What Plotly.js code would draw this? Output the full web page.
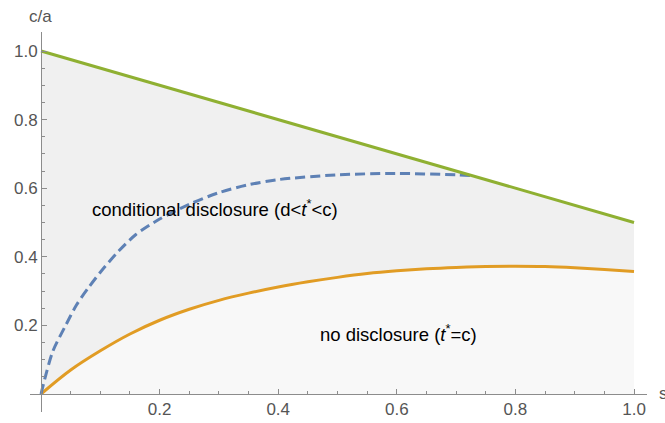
<!DOCTYPE html>
<html>
<head>
<meta charset="utf-8">
<script src="https://cdn.plot.ly/plotly-3.0.1.min.js"></script>
<style>html,body{margin:0;padding:0;background:#fff;}#chart{width:665px;height:423px;}</style>
</head>
<body>
<div id="chart"></div>
<script>
// Upper boundary (green line)
const greenS = [0, 1];
const greenY = [1.0, 0.5];

// Lower boundary (orange curve)
const orangeS = [0, 0.05, 0.1, 0.15, 0.2, 0.25, 0.3, 0.35, 0.4, 0.45, 0.5, 0.55, 0.6, 0.65, 0.7, 0.75, 0.8, 0.85, 0.9, 0.95, 1.0];
const orangeY = [0, 0.07, 0.126, 0.175, 0.215, 0.247, 0.273, 0.294, 0.312, 0.327, 0.34, 0.351, 0.359, 0.365, 0.369, 0.3715, 0.3725, 0.3715, 0.368, 0.363, 0.357];

// Dashed curve (blue)
const blueS = [0, 0.005, 0.02, 0.04, 0.06, 0.08, 0.1, 0.13, 0.16, 0.2, 0.25, 0.3, 0.35, 0.4, 0.5, 0.6, 0.7, 0.725];
const blueY = [0, 0.035, 0.125, 0.195, 0.26, 0.31, 0.355, 0.415, 0.465, 0.51, 0.553, 0.587, 0.61, 0.625, 0.639, 0.643, 0.639, 0.637];

const xTicks = [0.2, 0.4, 0.6, 0.8, 1.0];
const xTickText = ["0.2", "0.4", "0.6", "0.8", "1.0"];
const yTicks = [0.2, 0.4, 0.6, 0.8, 1.0];
const yTickText = ["0.2", "0.4", "0.6", "0.8", "1.0"];
const xMinor = [0.05,0.1,0.15,0.25,0.3,0.35,0.45,0.5,0.55,0.65,0.7,0.75,0.85,0.9,0.95];
const yMinor = [0.05,0.1,0.15,0.25,0.3,0.35,0.45,0.5,0.55,0.65,0.7,0.75,0.85,0.9,0.95];

const xRange = [-0.0186, 1.0219];
const yRange = [-0.0525, 1.0554];

const GREEN = '#8fb032', ORANGE = '#e19c24', BLUE = '#5e81b5';
const AX = '#8c8c8c';

const traces = [
  {x: greenS, y: greenY, mode: 'lines', fill: 'tozeroy', fillcolor: '#f0f0f0', line: {width: 0, color: 'rgba(0,0,0,0)'}, hoverinfo: 'skip'},
  {x: orangeS, y: orangeY, mode: 'lines', fill: 'tozeroy', fillcolor: '#f8f8f8', line: {width: 0, color: 'rgba(0,0,0,0)', shape: 'spline', smoothing: 1}, hoverinfo: 'skip'},
  {x: orangeS, y: orangeY, mode: 'lines', line: {color: ORANGE, width: 3, shape: 'spline', smoothing: 1}},
  {x: blueS, y: blueY, mode: 'lines', line: {color: BLUE, width: 3, dash: '10px,5px', shape: 'spline', smoothing: 0.8}},
  {x: greenS, y: greenY, mode: 'lines', line: {color: GREEN, width: 3}}
];

const tickFont = {family: 'Liberation Sans, Arial, sans-serif', size: 17, color: '#555'};
const txtFont = {family: 'Liberation Sans, Arial, sans-serif', size: 18.5, color: '#000'};

const layout = {
  width: 665, height: 423,
  margin: {l: 30, r: 18, t: 32, b: 11, pad: 0},
  paper_bgcolor: '#fff', plot_bgcolor: '#fff',
  showlegend: false,
  xaxis: {
    range: xRange, anchor: 'free', position: (0 - yRange[0]) / (yRange[1] - yRange[0]),
    showgrid: false, zeroline: false, showline: true, linecolor: AX, linewidth: 1,
    tickmode: 'array', tickvals: xTicks, ticktext: xTickText,
    ticks: 'inside', ticklen: 5, tickcolor: AX, tickfont: tickFont,
    minor: {tickmode: 'array', tickvals: xMinor, ticks: 'inside', ticklen: 3, tickcolor: AX, showgrid: false}
  },
  yaxis: {
    range: yRange, anchor: 'free', position: (0 - xRange[0]) / (xRange[1] - xRange[0]),
    showgrid: false, zeroline: false, showline: true, linecolor: AX, linewidth: 1,
    tickmode: 'array', tickvals: yTicks, ticktext: yTickText,
    ticks: 'inside', ticklen: 5, tickcolor: AX, tickfont: tickFont,
    minor: {tickmode: 'array', tickvals: yMinor, ticks: 'inside', ticklen: 3, tickcolor: AX, showgrid: false}
  },
  annotations: [
    {text: 'c/a', xref: 'paper', yref: 'paper', x: 0.0178, y: 1, xanchor: 'center', yanchor: 'bottom', yshift: 4, showarrow: false, font: tickFont},
    {text: 's', xref: 'paper', yref: 'y', x: 1, y: 0, xanchor: 'left', yanchor: 'middle', xshift: 10, showarrow: false, font: tickFont},
    {text: 'conditional disclosure (d&lt;<i>t</i><sup>*</sup>&lt;c)', xref: 'x', yref: 'y', x: 0.0826, y: 0.542, xanchor: 'left', yanchor: 'middle', showarrow: false, font: txtFont},
    {text: 'no disclosure (<i>t</i><sup>*</sup>=c)', xref: 'x', yref: 'y', x: 0.467, y: 0.178, xanchor: 'left', yanchor: 'middle', showarrow: false, font: txtFont}
  ]
};

Plotly.newPlot('chart', traces, layout, {displayModeBar: false, staticPlot: true});
</script>
</body>
</html>
